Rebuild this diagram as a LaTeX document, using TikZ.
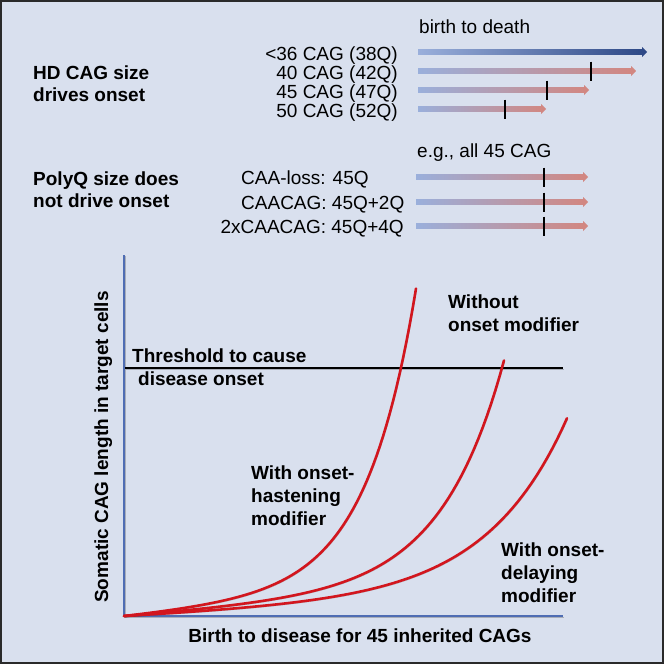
\documentclass[tikz,border=0pt]{standalone}
\usepackage{fontspec}
\setmainfont{Liberation Sans}
\usetikzlibrary{arrows.meta,shapes.arrows}

\definecolor{panelbg}{HTML}{D9E0EE}
\definecolor{framedark}{HTML}{2A2A2A}
\definecolor{barpale}{HTML}{9AAFDB}
\definecolor{barnavy}{HTML}{2C4785}
\definecolor{barrose}{HTML}{D3867F}
\definecolor{axisblue}{HTML}{4F6DB3}
\definecolor{curvered}{HTML}{D2161E}

\begin{document}
\begin{tikzpicture}[
    x=1pt, y=-1pt,
    font=\fontsize{19}{23}\selectfont,
    txt/.style={inner sep=0pt, anchor=base west},
    rtxt/.style={inner sep=0pt, anchor=base east},
    heading/.style={inner sep=0pt, anchor=base west, align=left, font=\fontsize{19}{21.5}\selectfont\bfseries},
    curvelabel/.style={inner sep=0pt, anchor=base west, align=left, font=\fontsize{19}{23}\selectfont\bfseries},
    axislabel/.style={inner sep=0pt, anchor=base, font=\fontsize{19}{23}\selectfont\bfseries},
    lifebar/.style={single arrow, anchor=west, inner sep=2.6pt, single arrow head extend=2.2pt, single arrow head indent=0pt, minimum height=#1, left color=barpale, right color=barrose},
    tickmark/.style={line width=1.4pt, black},
    softshadow/.style={preaction={draw=black, draw opacity=0.22, transform canvas={shift={(0.8pt,-1.2pt)}}}},
    axis/.style={line width=2.6pt, axisblue, softshadow},
    curve/.style={line width=2.6pt, curvered, line cap=round, line join=round, softshadow},
    threshold/.style={line width=2.8pt, black, softshadow}
]

% Panel
\useasboundingbox (0,0) rectangle (664,664);
\path[fill=panelbg, draw=framedark, line width=2.4pt] (1.2,1.2) rectangle (662.8,662.8);

% CAG size drives onset
\node[txt] (birthdeath) at (419,33) {birth to death};
\node[heading] (hdhead) at (33,101) {HD CAG size\\drives onset};
\node[rtxt] (cag36) at (398,60) {<36 CAG (38Q)};
\node[rtxt] (cag40) at (398,79) {40 CAG (42Q)};
\node[rtxt] (cag45) at (398,98) {45 CAG (47Q)};
\node[rtxt] (cag50) at (398,117) {50 CAG (52Q)};
\node[lifebar=229, right color=barnavy] (bar36) at (418,52) {};
\node[lifebar=218] (bar40) at (418,71) {};
\node[lifebar=171] (bar45) at (418,90) {};
\node[lifebar=128] (bar50) at (418,109) {};
\draw[tickmark] (591,61.5) -- (591,80.5);
\draw[tickmark] (547,80.5) -- (547,99.5);
\draw[tickmark] (505,99.5) -- (505,118.5);

% PolyQ size does not
\node[txt] (allcag) at (417,157) {e.g., all 45 CAG};
\node[heading] (polyhead) at (33,207) {PolyQ size does\\not drive onset};
\node[txt] (caaloss) at (241,184) {CAA-loss: 45Q};
\node[txt] (caacag) at (241,209) {CAACAG: 45Q+2Q};
\node[rtxt] (twocaacag) at (404,233) {2xCAACAG: 45Q+4Q};
\node[lifebar=172] (barloss) at (416,177) {};
\node[lifebar=172] (barcaacag) at (416,202) {};
\node[lifebar=172] (bartwo) at (416,226) {};
\draw[tickmark] (544,167.5) -- (544,186.5);
\draw[tickmark] (544,192.5) -- (544,211.5);
\draw[tickmark] (544,216.5) -- (544,235.5);

% Somatic expansion plot
\coordinate (origin) at (124,616);
\coordinate (ytop) at (124,255);
\coordinate (xend) at (563,616);
\coordinate (thleft) at (125,368);
\coordinate (thright) at (563,368);
\draw[axis] (ytop) -- (origin) -- (xend);
\draw[threshold] (thleft) -- (thright);

\draw[curve] (origin) -- plot[domain=0:292, samples=90] ({124+\x}, {616-(0.1*\x+0.869*(exp(0.02*\x)-1))});
\draw[curve] (origin) -- plot[domain=0:380, samples=90] ({124+\x}, {616-(0.0784*\x+0.5165*(exp(0.016*\x)-1))});
\draw[curve] (origin) -- plot[domain=0:443, samples=90] ({124+\x}, {616-(0.05*\x+0.695*(exp(0.0125*\x)-1))});

\node[curvelabel] (threshtxt) at (132,385) {Threshold to cause\\\hspace*{6pt}disease onset};
\node[curvelabel] (withouttxt) at (448,331) {Without\\onset modifier};
\node[curvelabel] (hastentxt) at (251,525) {With onset-\\hastening\\modifier};
\node[curvelabel] (delaytxt) at (501,602) {With onset-\\delaying\\modifier};
\node[axislabel] (xlabel) at (360,642) {Birth to disease for 45 inherited CAGs};
\node[axislabel, rotate=90] (ylabel) at (108,447) {Somatic CAG length in target cells};

\end{tikzpicture}
\end{document}
